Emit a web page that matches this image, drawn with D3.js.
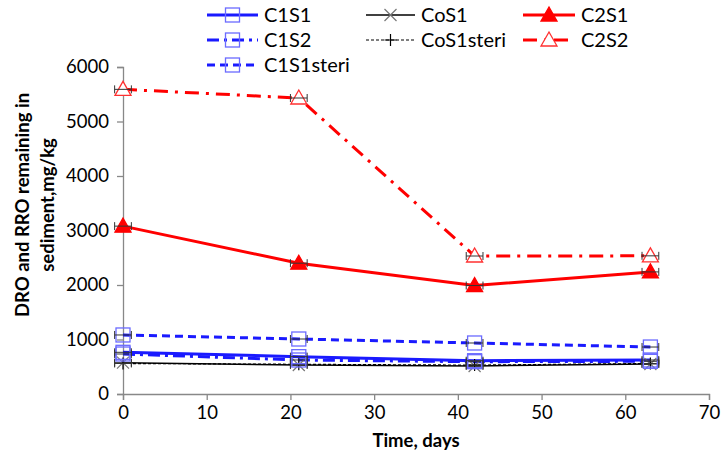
<!DOCTYPE html>
<html><head><meta charset="utf-8">
<script src="https://cdn.jsdelivr.net/npm/d3@7"></script>
<style>body{margin:0;background:#fff}svg{display:block}text{font-family:Lato,"Open Sans",sans-serif}</style>
</head><body><svg id="c" width="722" height="454"></svg>
<script>
const days = [0, 21, 42, 63];
const C1S1 = [765, 685, 611, 624];
const C1S2 = [734, 624, 593, 600];
const C1S1steri = [1083, 1009, 936, 862];
const CoS1 = [575, 532, 514, 550];
const CoS1steri = [560, 545, 530, 560];
const C2S1 = [3080, 2400, 1990, 2240];
const C2S2 = [5590, 5431, 2532, 2535];
const xErr = 1;
const yTicks = [0, 1000, 2000, 3000, 4000, 5000, 6000];
const xTicks = [0, 10, 20, 30, 40, 50, 60, 70];

const series = [
  {name:"CoS1", vals:CoS1, color:"#000", width:1.5, dash:null, marker:"x", mcolor:"#777"},
  {name:"CoS1steri", vals:CoS1steri, color:"#000", width:1.2, dash:"3,2", marker:"plus", mcolor:"#000"},
  {name:"C1S2", vals:C1S2, color:"#1a1aff", width:3, dash:"12,5,3,5", marker:"square", mcolor:"#6b6bff"},
  {name:"C1S1", vals:C1S1, color:"#1a1aff", width:3, dash:null, marker:"square", mcolor:"#6b6bff"},
  {name:"C1S1steri", vals:C1S1steri, color:"#1a1aff", width:3, dash:"8,5", marker:"square", mcolor:"#6b6bff"},
  {name:"C2S1", vals:C2S1, color:"#ff0000", width:3, dash:null, marker:"tri", mcolor:"#ff0000", fill:true},
  {name:"C2S2", vals:C2S2, color:"#ff0000", width:3, dash:"14,7,3,7", marker:"tri", mcolor:"#ff3030"}
];

const svg = d3.select("#c");
const x = d3.scaleLinear().domain([0,70]).range([123,709]);
const y = d3.scaleLinear().domain([0,6000]).range([394,67]);

const axisColor = "#888";
const gx = svg.append("g").attr("transform","translate(0,394)")
  .call(d3.axisBottom(x).tickValues(xTicks).tickFormat(d3.format("d")).tickSize(6).tickPadding(6));
const gy = svg.append("g").attr("transform","translate(123,0)")
  .call(d3.axisLeft(y).tickValues(yTicks).tickFormat(d3.format("d")).tickSize(6).tickPadding(8));
[gx,gy].forEach(g=>{
  g.select(".domain").attr("stroke",axisColor).attr("stroke-width",1.3);
  g.selectAll(".tick line").attr("stroke",axisColor).attr("stroke-width",1.3);
  g.selectAll(".tick text").attr("fill","#000").style("font-size","18.5px").style("font-family","Lato, sans-serif");
});

svg.append("text").attr("x",416).attr("y",447).attr("text-anchor","middle")
  .style("font-size","18.5px").style("font-weight","bold").text("Time, days");
const yl = svg.append("text").attr("transform","translate(0,205) rotate(-90)")
  .attr("text-anchor","middle").style("font-size","18.5px").style("font-weight","bold");
yl.append("tspan").attr("x",0).attr("y",29).text("DRO and RRO remaining in");
yl.append("tspan").attr("x",0).attr("y",54).text("sediment,mg/kg");

function drawMarker(g, s, cx, cy, scale) {
  const k = scale || 1;
  if (s.marker === "square") {
    g.append("rect").attr("x",cx-7*k).attr("y",cy-7*k).attr("width",14*k).attr("height",14*k)
      .attr("fill","none").attr("stroke",s.mcolor).attr("stroke-width",1.3);
  } else if (s.marker === "tri") {
    const h = 8*k;
    g.append("path").attr("d",`M${cx},${cy-h} L${cx+h},${cy+h*0.75} L${cx-h},${cy+h*0.75} Z`)
      .attr("fill", s.fill ? s.mcolor : "#fff").attr("stroke",s.mcolor).attr("stroke-width",1.3);
  } else if (s.marker === "x") {
    const r = 6*k;
    g.append("path").attr("d",`M${cx-r},${cy-r}L${cx+r},${cy+r}M${cx-r},${cy+r}L${cx+r},${cy-r}`)
      .attr("stroke",s.mcolor).attr("stroke-width",1.2);
  } else if (s.marker === "plus") {
    const r = 6*k;
    g.append("path").attr("d",`M${cx-r},${cy}L${cx+r},${cy}M${cx},${cy-r}L${cx},${cy+r}`)
      .attr("stroke",s.mcolor).attr("stroke-width",1.2);
  }
}

const line = d3.line().x((d,i)=>x(days[i])).y(d=>y(d));
const plot = svg.append("g");
series.forEach(s=>{
  plot.append("path").datum(s.vals).attr("d",line).attr("fill","none")
    .attr("stroke",s.color).attr("stroke-width",s.width)
    .attr("stroke-dasharray",s.dash);
});
series.forEach(s=>{
  s.vals.forEach((v,i)=>{
    const cx = x(days[i]), cy = y(v);
    drawMarker(plot, s, cx, cy);
    const x0 = x(days[i]-xErr), x1 = x(days[i]+xErr);
    plot.append("path").attr("d",`M${x0},${cy}L${x1},${cy}M${x0},${cy-4}L${x0},${cy+4}M${x1},${cy-4}L${x1},${cy+4}`)
      .attr("stroke","#333").attr("stroke-width",1);
  });
});

// legend
const legendItems = [
  {s:"C1S1", col:0, row:0},{s:"C1S2", col:0, row:1},{s:"C1S1steri", col:0, row:2},
  {s:"CoS1", col:1, row:0},{s:"CoS1steri", col:1, row:1},
  {s:"C2S1", col:2, row:0},{s:"C2S2", col:2, row:1}
];
const colX = [[207,258,264],[366,415,421],[523,575,581]];
const rowY = [15,40,65];
const lg = svg.append("g");
legendItems.forEach(it=>{
  const s = series.find(d=>d.name===it.s);
  const [a,b,t] = colX[it.col]; const yy = rowY[it.row];
  lg.append("line").attr("x1",a).attr("x2",b).attr("y1",yy).attr("y2",yy)
    .attr("stroke",s.color).attr("stroke-width",s.width)
    .attr("stroke-dasharray",s.dash);
  drawMarker(lg, s, (a+b)/2, yy);
  lg.append("text").attr("x",t).attr("y",yy+7).style("font-size","20px").text(s.name);
});
</script></body></html>
